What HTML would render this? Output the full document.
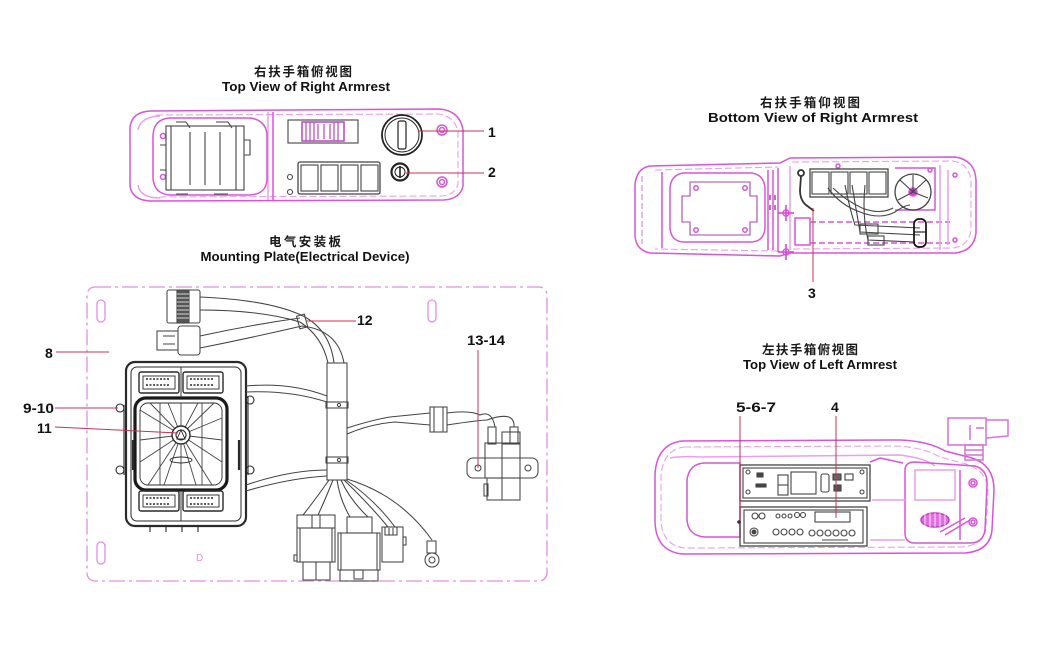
<!DOCTYPE html>
<html><head><meta charset="utf-8"><style>
html,body{margin:0;padding:0;background:#fff;}
svg{display:block;}
.t{font-family:"Liberation Sans","Noto Sans CJK SC",sans-serif;font-weight:bold;fill:#111;}
.c{font-family:"Liberation Sans","Noto Sans CJK SC",sans-serif;font-weight:bold;fill:#1a1a1a;}
</style></head><body>
<svg width="1044" height="655" viewBox="0 0 1044 655" xmlns="http://www.w3.org/2000/svg">
<rect width="1044" height="655" fill="#fff"/>

<!-- ================= TITLES ================= -->
<text class="c" x="303" y="76" font-size="12.5" text-anchor="middle" textLength="98">右扶手箱俯视图</text>
<text class="t" x="306" y="91" font-size="12.5" text-anchor="middle" textLength="168" lengthAdjust="spacingAndGlyphs">Top View of Right Armrest</text>

<text class="c" x="810" y="107" font-size="12.5" text-anchor="middle" textLength="100">右扶手箱仰视图</text>
<text class="t" x="813" y="122" font-size="12.5" text-anchor="middle" textLength="210" lengthAdjust="spacingAndGlyphs">Bottom View of Right Armrest</text>

<text class="c" x="305" y="246" font-size="12.5" text-anchor="middle" textLength="72">电气安装板</text>
<text class="t" x="305" y="261" font-size="12.5" text-anchor="middle" textLength="209" lengthAdjust="spacingAndGlyphs">Mounting Plate(Electrical Device)</text>

<text class="c" x="810" y="354" font-size="12.5" text-anchor="middle" textLength="96">左扶手箱俯视图</text>
<text class="t" x="820" y="369" font-size="12.5" text-anchor="middle" textLength="154" lengthAdjust="spacingAndGlyphs">Top View of Left Armrest</text>

<!-- ================= TOP VIEW RIGHT ARMREST ================= -->
<g fill="none" stroke="#d855d8" stroke-width="1.5">
  <path d="M150 111 L440 109 Q460 111 463 130 L463 186 Q460 199 444 200 L150 201 Q132 200 130 186 L130 127 Q132 112 150 111Z"/>
  <path d="M156 115 L438 114 Q455 116 458 132 L458 184 Q455 195 442 196 L156 197" stroke="#e9a0e9" stroke-width="1.1" stroke-dasharray="7 3"/>
  <path d="M273 112 L273 200"/>
  <path d="M268 112 L268 200" stroke="#e9a0e9"/>
  <path d="M170 118 L250 118 Q266 120 267 135 L267 180 Q266 194 250 195 L170 195 Q154 194 153 178 L153 135 Q154 119 170 118Z"/>
  <path d="M138 130 Q140 117 160 116" stroke="#e9a0e9"/>
  <path d="M138 185 Q140 198 160 198" stroke="#e9a0e9"/>
  <circle cx="163" cy="136" r="2.5"/>
  <circle cx="163" cy="177" r="2.5"/>
  <circle cx="442" cy="130" r="5"/><circle cx="442" cy="130" r="2.5"/>
  <circle cx="442" cy="182" r="5"/><circle cx="442" cy="182" r="2.5"/>
  <rect x="302" y="122" width="42" height="19" stroke="#c040c0"/>
  <path d="M306 122 V141 M310 122 V141 M314 122 V141 M318 124 V139 M324 124 V139 M330 124 V139 M334 122 V141 M338 122 V141" stroke="#c040c0" stroke-width="1.2"/>
</g>
<g fill="none" stroke="#444" stroke-width="1.1">
  <rect x="166" y="126" width="78" height="64"/>
  <path d="M171 126 V190 M190 132 V185 M205 132 V185 M220 132 V185 M236 126 V190"/>
  <path d="M176 122 L186 122 L190 128 M216 122 L228 122 L232 128 M176 194 L188 194 M214 194 L228 194"/>
  <path d="M160 145 L166 145 M160 170 L166 170 M244 140 L250 140 L250 155 L244 155"/>
  <rect x="288" y="120" width="70" height="23"/>
  <rect x="298" y="162" width="82" height="32" rx="2" stroke-width="1.3"/>
  <rect x="301" y="165" width="17" height="26"/>
  <rect x="321" y="165" width="17" height="26"/>
  <rect x="341" y="165" width="17" height="26"/>
  <rect x="361" y="165" width="17" height="26"/>
  <circle cx="290" cy="177" r="2.5"/>
  <circle cx="290" cy="192" r="2.5"/>
</g>
<g fill="none" stroke="#222">
  <circle cx="402" cy="135" r="20" stroke-width="1.8"/>
  <circle cx="402" cy="135" r="17" stroke-width="1"/>
  <rect x="398" y="121" width="8" height="28" rx="2" stroke-width="1.2"/>
  <circle cx="400" cy="172" r="8.5" stroke-width="2.2"/>
  <circle cx="400" cy="172" r="5" stroke-width="1"/>
  <path d="M400 166 V178" stroke-width="1.6"/>
</g>
<g stroke="#c83050" stroke-width="1">
  <line x1="418" y1="131" x2="484" y2="131"/>
  <line x1="406" y1="173" x2="484" y2="173"/>
</g>
<text class="t" x="488" y="137" font-size="14">1</text>
<text class="t" x="488" y="177" font-size="14">2</text>

<!-- ================= BOTTOM VIEW RIGHT ARMREST ================= -->
<g fill="none" stroke="#d855d8" stroke-width="1.5">
  <path d="M650 166 L780 163 L790 158 L955 157 Q975 160 976 180 L976 233 Q974 251 955 253 L790 253 L780 256 L650 253 Q636 250 635 236 L635 184 Q637 168 650 166Z"/>
  <path d="M655 170 L778 167 M792 162 L953 161 Q970 164 971 182 L971 230 Q969 246 953 248 L792 249 M778 251 L655 249" stroke="#e9a0e9" stroke-width="1.1" stroke-dasharray="7 3"/>
  <path d="M642 176 L642 244" stroke="#e9a0e9" stroke-dasharray="6 3"/>
  <path d="M662 172 L662 248"/>
  <path d="M683 173 L752 173 Q764 175 765 188 L765 228 Q764 241 752 242 L683 242 Q671 241 670 228 L670 188 Q671 175 683 173Z"/>
  <path d="M690 182 L750 182 L750 196 L757 196 L757 222 L750 222 L750 235 L690 235 L690 222 L682 222 L682 196 L690 196Z" stroke="#aa44aa" stroke-width="1.1"/>
  <circle cx="696" cy="188" r="2.2"/><circle cx="745" cy="188" r="2.2"/>
  <circle cx="696" cy="230" r="2.2"/><circle cx="745" cy="230" r="2.2"/>
  <path d="M768 170 V250 M773 170 V250 M778 168 V252" />
  <path d="M770 195 V200 M770 205 V210 M775 195 V200 M775 205 V210" stroke="#aa44aa"/>
  <path d="M790 166 L790 250" stroke="#e9a0e9"/>
  <path d="M795 218 L795 245 L810 245 L810 218 Z"/>
  <path d="M810 222 L950 222 M810 243 L950 243" stroke-dasharray="6 3"/>
  <path d="M895 168 L935 168 L935 210 L895 210" />
  <path d="M940 165 V250 M948 170 V245" stroke="#e9a0e9"/>
  <circle cx="955" cy="175" r="2"/><circle cx="955" cy="240" r="2"/>
  <circle cx="838" cy="166" r="2"/><circle cx="930" cy="170" r="2"/>
  <g stroke="#d040d0" stroke-width="1.5">
    <path d="M786 205 V221 M778 213 H794"/>
    <path d="M786 244 V260 M778 252 H794"/>
  </g>
  <circle cx="786" cy="213" r="3"/><circle cx="786" cy="252" r="3"/>
  <circle cx="913" cy="192" r="4" fill="#d040d0"/>
</g>
<g fill="none" stroke="#444" stroke-width="1.1">
  <rect x="810" y="169" width="78" height="28" stroke-width="1.3"/>
  <rect x="812" y="172" width="17" height="22"/>
  <rect x="831" y="172" width="17" height="22"/>
  <rect x="850" y="172" width="17" height="22"/>
  <rect x="869" y="172" width="17" height="22"/>
  <circle cx="913" cy="192" r="18" stroke-width="1.3"/>
  <path d="M913 192 L900 180 M913 192 L926 180 M913 192 L928 198 M913 192 L898 200 M913 192 L913 175"/>
  <path d="M828 188 Q840 205 860 212 Q880 220 895 212 Q905 205 910 205"/>
  <path d="M833 188 Q845 200 862 208 Q880 215 893 208"/>
  <path d="M845 185 Q850 210 855 225 L920 228"/>
  <path d="M852 185 Q856 208 860 232 L920 235"/>
  <path d="M865 185 Q862 215 868 240 L915 242"/>
  <rect x="860" y="224" width="18" height="10"/>
  <rect x="868" y="236" width="16" height="9"/>
  <rect x="914" y="219" width="12" height="28" rx="5" stroke="#111" stroke-width="1.7"/>
  <path d="M914 232 H926" stroke="#111"/>
</g>
<g fill="none" stroke="#333" stroke-width="1.8">
  <circle cx="801" cy="173" r="3"/>
  <path d="M801 176 L800 190 Q800 200 806 205 L814 211"/>
</g>
<line x1="813" y1="208" x2="813" y2="282" stroke="#c83050" stroke-width="1"/>
<text class="t" x="808" y="298" font-size="14">3</text>

<!-- ================= MOUNTING PLATE ================= -->
<g fill="none" stroke="#e090e0" stroke-width="1.3">
  <rect x="87" y="287" width="460" height="294" rx="8" stroke-dasharray="16 4 3 4"/>
  <rect x="97" y="300" width="8" height="22" rx="4"/>
  <rect x="428" y="300" width="8" height="22" rx="4"/>
  <rect x="97" y="542" width="8" height="22" rx="4"/>
</g>
<text x="196" y="561" font-size="10" font-family="Liberation Sans, sans-serif" fill="#e090e0">D</text>

<!-- ECU -->
<g fill="none" stroke="#2a2a2a">
  <rect x="126" y="362" width="120" height="164" rx="9" stroke-width="2.2"/>
  <rect x="131" y="367" width="110" height="154" rx="6" stroke-width="1"/>
  <rect x="135" y="398" width="92" height="92" rx="11" stroke-width="3.2" stroke="#1a1a1a"/>
  <rect x="140" y="403" width="82" height="82" rx="8" stroke-width="0.9"/>
  <g stroke-width="0.9" stroke="#444">
    <path d="M181 435 L140 410 M181 435 L150 403 M181 435 L168 403 M181 435 L181 403 M181 435 L198 403 M181 435 L214 403 M181 435 L222 418 M181 435 L222 440 M181 435 L222 462 M181 435 L212 485 M181 435 L196 485 M181 435 L181 485 M181 435 L164 485 M181 435 L148 485 M181 435 L140 462 M181 435 L140 440"/>
    <path d="M160 403 V485 M202 403 V485"/>
  </g>
  <circle cx="181" cy="435" r="9" stroke-width="1.4" fill="#fff"/>
  <circle cx="181" cy="435" r="5" stroke-width="1.1"/>
  <path d="M181 430 L177 439 L185 439 Z" stroke-width="0.9"/>
  <ellipse cx="181" cy="460" rx="11" ry="3" stroke-width="0.9"/>
  <rect x="139" y="372" width="40" height="21" rx="2" stroke-width="1.4"/>
  <rect x="183" y="372" width="40" height="21" rx="2" stroke-width="1.4"/>
  <rect x="143" y="376" width="32" height="13" stroke-width="0.9"/>
  <rect x="187" y="376" width="32" height="13" stroke-width="0.9"/>
  <rect x="139" y="491" width="40" height="20" rx="2" stroke-width="1.4"/>
  <rect x="183" y="491" width="40" height="20" rx="2" stroke-width="1.4"/>
  <rect x="143" y="495" width="32" height="12" stroke-width="0.9"/>
  <rect x="187" y="495" width="32" height="12" stroke-width="0.9"/>
  <path d="M146 379 h24 M146 385 h24 M190 379 h24 M190 385 h24 M146 498 h24 M146 504 h24 M190 498 h24 M190 504 h24" stroke-dasharray="2 1.5" stroke-width="1.5"/>
  <circle cx="120" cy="408" r="4" stroke-width="1.1"/>
  <circle cx="120" cy="470" r="4" stroke-width="1.1"/>
  <circle cx="250" cy="400" r="4" stroke-width="1.1"/>
  <circle cx="250" cy="470" r="4" stroke-width="1.1"/>
  <path d="M124 405 L124 475 M248 396 L248 475" stroke-width="1.1"/>
  <path d="M150 526 V532 M166 526 V532 M182 526 V532 M198 526 V532" stroke-width="1.1"/>
  <path d="M133 440 V470 M239 440 V470" stroke-width="2.2"/>
  <path d="M181 367 V398 M181 490 V521" stroke-width="0.9"/>
</g>

<!-- Harness -->
<g fill="none" stroke="#444" stroke-width="1.05">
  <rect x="167" y="290" width="33" height="33" rx="2"/>
  <rect x="177" y="290" width="12" height="33" fill="#555"/>
  <path d="M177 294 h12 M177 298 h12 M177 302 h12 M177 306 h12 M177 310 h12 M177 314 h12 M177 318 h12" stroke="#fff" stroke-width="0.8"/>
  <rect x="178" y="326" width="22" height="29" rx="3"/>
  <rect x="157" y="331" width="21" height="19"/>
  <path d="M163 336 h12 M163 344 h12"/>
  <path d="M200 297 Q270 300 303 316 Q330 330 334 363"/>
  <path d="M200 310 Q260 310 300 322 Q322 336 328 363"/>
  <path d="M200 336 Q250 325 300 318"/>
  <path d="M200 348 Q250 338 302 326 Q338 330 344 363"/>
  <rect x="298" y="315" width="8" height="13" transform="rotate(-15 302 321)"/>
  <rect x="327" y="363" width="20" height="117"/>
  <rect x="326" y="402" width="22" height="6"/>
  <rect x="326" y="457" width="22" height="6"/>
  <circle cx="339" cy="405" r="1.6"/><circle cx="339" cy="460" r="1.6"/>
  <path d="M246 386 Q290 382 327 396 M246 392 Q290 390 327 402"/>
  <path d="M246 485 Q290 470 327 470 M246 491 Q290 478 327 476"/>
  <path d="M347 428 Q372 420 390 417 L430 413 M347 434 Q370 424 395 422 L430 425"/>
  <rect x="430" y="407" width="17" height="25"/>
  <path d="M434 407 V432 M443 407 V432"/>
  <path d="M447 413 Q470 410 480 415 Q492 410 495 427 M447 425 Q480 420 487 420 Q515 410 514 427"/>
  <rect x="467" y="458" width="71" height="20" rx="6"/>
  <circle cx="478" cy="468" r="3"/>
  <circle cx="528" cy="468" r="3"/>
  <rect x="485" y="443" width="35" height="35"/>
  <path d="M502 443 V500"/>
  <rect x="488" y="427" width="8" height="17"/>
  <rect x="510" y="427" width="8" height="17"/>
  <rect x="502" y="432" width="18" height="12"/>
  <rect x="487" y="478" width="33" height="22"/>
  <rect x="484" y="484" width="4" height="12"/>
  <path d="M329 480 Q315 500 303 515 M333 480 Q325 500 318 515 M337 480 Q340 500 350 517 M341 480 Q350 500 368 517 M344 480 Q370 505 388 527 M346 480 Q375 500 395 527 M347 479 Q400 495 432 540"/>
  <rect x="297" y="515" width="38" height="13"/>
  <rect x="312" y="515" width="8" height="13"/>
  <rect x="297" y="528" width="38" height="34"/>
  <path d="M300 528 L300 562 M332 528 L332 562"/>
  <rect x="303" y="562" width="27" height="18"/>
  <path d="M316 562 V580"/>
  <rect x="294" y="555" width="3" height="6"/>
  <rect x="347" y="517" width="25" height="16"/>
  <rect x="338" y="533" width="42" height="37"/>
  <path d="M341 533 V570 M377 533 V570"/>
  <rect x="340" y="570" width="38" height="11"/>
  <rect x="354" y="570" width="9" height="9"/>
  <rect x="382" y="527" width="21" height="35"/>
  <rect x="385" y="527" width="12" height="8"/>
  <path d="M389 528 V535 M393 528 V535"/>
  <rect x="403" y="537" width="3" height="8"/>
  <rect x="427" y="541" width="9" height="12"/>
  <circle cx="432" cy="560" r="7"/>
  <circle cx="432" cy="560" r="3"/>
</g>

<g stroke="#c83050" stroke-width="1">
  <line x1="56" y1="352" x2="109" y2="352"/>
  <line x1="55" y1="408" x2="118" y2="408"/>
  <line x1="55" y1="427" x2="178" y2="433"/>
  <line x1="307" y1="321" x2="356" y2="321"/>
  <line x1="478" y1="350" x2="478" y2="468"/>
</g>
<text class="t" x="45" y="358" font-size="14">8</text>
<text class="t" x="23" y="413" font-size="14" textLength="31" lengthAdjust="spacingAndGlyphs">9-10</text>
<text class="t" x="37" y="433" font-size="14">11</text>
<text class="t" x="357" y="325" font-size="14">12</text>
<text class="t" x="467" y="345" font-size="14" textLength="38" lengthAdjust="spacingAndGlyphs">13-14</text>

<!-- ================= TOP VIEW LEFT ARMREST ================= -->
<g fill="none" stroke="#d855d8" stroke-width="1.5">
  <path d="M682 441 L900 440 Q928 441 945 451 L972 458 Q994 465 994 490 L992 530 Q990 551 965 553 L682 554 Q656 551 655 522 L655 474 Q657 444 682 441Z"/>
  <path d="M684 447 L898 446 Q925 448 940 457 L966 464 Q988 471 988 492 L986 528 Q984 545 962 547 L684 548 Q662 545 661 520 L661 476 Q663 450 684 447Z" stroke="#e9a0e9" stroke-width="1.1" stroke-dasharray="7 3"/>
  <path d="M670 458 Q680 456 700 457 L900 455 Q925 458 935 466" stroke="#e9a0e9"/>
  <path d="M704 463 L740 463 L740 537 L704 537 Q688 535 687 520 L687 480 Q689 464 704 463Z"/>
  <path d="M870 462 L880 458 L903 463" />
  <path d="M905 470 Q905 462 915 462 L975 466 Q988 470 987 485 L985 530 Q983 543 970 543 L915 543 Q905 543 905 533Z"/>
  <path d="M872 500 L905 500 M870 540 L905 540" stroke="#e9a0e9"/>
  <ellipse cx="935" cy="520" rx="14" ry="7" fill="#e070e0" stroke="#c040c0"/>
  <path d="M925 514 V526 M930 513 V527 M935 513 V527 M940 513 V527 M945 514 V526" stroke="#fff" stroke-width="0.8"/>
  <circle cx="973" cy="483" r="4"/><circle cx="973" cy="483" r="2"/>
  <circle cx="973" cy="522" r="4"/><circle cx="973" cy="522" r="2"/>
  <path d="M960 470 L960 540" />
  <path d="M915 470 L955 470 L955 500 L915 500 Z" stroke="#e9a0e9"/>
  <path d="M940 532 L965 518 M945 535 L970 520" />
  <rect x="948" y="418" width="38" height="27" stroke="#d870d8"/>
  <path d="M986 420 L1008 420 L1008 436 L986 438" stroke="#d870d8"/>
  <path d="M970 425 V440 M976 428 H984" stroke="#d870d8"/>
  <rect x="965" y="445" width="18" height="15" stroke="#d870d8"/>
  <path d="M965 450 H983 M965 455 H983" stroke="#d870d8"/>
</g>
<g fill="none" stroke="#444" stroke-width="1.1">
  <rect x="740" y="465" width="130" height="36" stroke-width="1.3"/>
  <rect x="743" y="468" width="124" height="30"/>
  <circle cx="748" cy="472" r="2"/><circle cx="748" cy="492" r="2"/>
  <circle cx="862" cy="472" r="2"/><circle cx="862" cy="492" r="2"/>
  <rect x="757" y="473" width="6" height="4" fill="#444"/>
  <rect x="756" y="484" width="10" height="3" fill="#444"/>
  <rect x="778" y="475" width="10" height="20"/>
  <path d="M778 485 H788"/>
  <rect x="791" y="472" width="25" height="22"/>
  <rect x="821" y="474" width="8" height="18" rx="2"/>
  <rect x="833" y="474" width="8" height="6" fill="#666"/>
  <rect x="845" y="474" width="8" height="6"/>
  <rect x="834" y="485" width="7" height="6" fill="#555"/>
  <rect x="740" y="507" width="127" height="39" stroke-width="1.3"/>
  <rect x="744" y="510" width="119" height="33"/>
  <circle cx="755" cy="516" r="3"/><circle cx="762" cy="516" r="3"/>
  <circle cx="754" cy="532" r="4"/><circle cx="754" cy="532" r="2" fill="#444"/>
  <circle cx="778" cy="516" r="2"/><circle cx="784" cy="516" r="2"/><circle cx="790" cy="516" r="2"/>
  <circle cx="797" cy="515" r="2.5"/><circle cx="803" cy="515" r="2.5"/>
  <rect x="815" y="512" width="35" height="10"/>
  <circle cx="776" cy="532" r="3"/><circle cx="784" cy="532" r="3"/><circle cx="792" cy="532" r="3"/><circle cx="800" cy="532" r="3"/>
  <circle cx="812" cy="533" r="3"/><circle cx="820" cy="533" r="3"/><circle cx="828" cy="533" r="3"/><circle cx="836" cy="533" r="3"/><circle cx="844" cy="533" r="3"/><circle cx="852" cy="533" r="3"/>
  <path d="M822 540 H848"/>
</g>
<g stroke="#c83050" stroke-width="1">
  <line x1="740" y1="416" x2="740" y2="522"/>
  <line x1="836" y1="416" x2="836" y2="518"/>
</g>
<circle cx="739" cy="522" r="1.8" fill="#333"/>
<text class="t" x="736" y="412" font-size="14" textLength="40" lengthAdjust="spacingAndGlyphs">5-6-7</text>
<text class="t" x="831" y="412" font-size="14">4</text>
</svg>
</body></html>
